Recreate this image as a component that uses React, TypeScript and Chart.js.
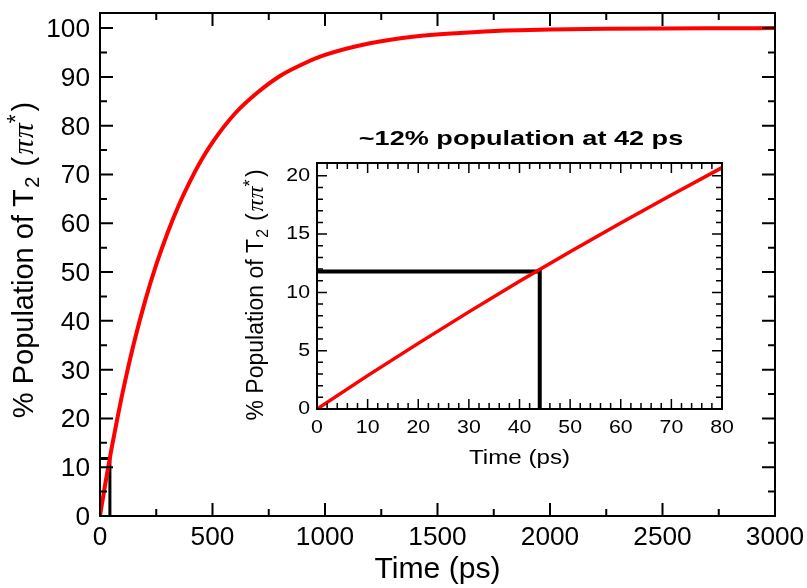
import React, { useEffect, useRef } from "react";
import { Chart, registerables } from "chart.js";

Chart.register(...registerables);

// ---------- data ----------
const mainTime = [0, 25, 50, 75, 100, 150, 200, 250, 300, 350, 400, 450, 500, 600, 700, 800, 900, 1000, 1200, 1400, 1600, 1800, 2000, 2250, 2500, 2750, 3000];
const mainPopulation = [0, 7.0, 13.5, 19.5, 25.2, 35.3, 44.0, 51.5, 58.0, 63.7, 68.6, 72.9, 76.6, 82.5, 86.8, 90.2, 92.6, 94.5, 96.9, 98.3, 99.0, 99.5, 99.7, 99.85, 99.93, 99.97, 100];

const insetTime = [0, 10, 20, 30, 40, 50, 60, 70, 80];
const insetPopulation = [0, 2.86, 5.63, 8.33, 10.95, 13.49, 15.96, 18.36, 20.7];

const markerTime = [0, 44, 44];
const markerPopulation = [11.8, 11.8, 0];

// ---------- ticks ----------
const mainXTicks = [0, 500, 1000, 1500, 2000, 2500, 3000];
const mainXMinor = [250, 750, 1250, 1750, 2250, 2750];
const mainYTicks = [0, 10, 20, 30, 40, 50, 60, 70, 80, 90, 100];
const mainYMinor = [5, 15, 25, 35, 45, 55, 65, 75, 85, 95];

const insetXTicks = [0, 10, 20, 30, 40, 50, 60, 70, 80];
const insetXMinor = [2, 4, 6, 8, 12, 14, 16, 18, 22, 24, 26, 28, 32, 34, 36, 38, 42, 44, 46, 48, 52, 54, 56, 58, 62, 64, 66, 68, 72, 74, 76, 78];
const insetYTicks = [0, 5, 10, 15, 20];
const insetYMinor = [1, 2, 3, 4, 6, 7, 8, 9, 11, 12, 13, 14, 16, 17, 18, 19];

const xTitle = "Time (ps)";
const yTitleMain = "% Population of T";
const yTitleSub = "2";
const yTitleGreek = "\u03C0\u03C0";
const insetTitle = "~12% population at 42 ps";

const SANS = "'Liberation Sans', Arial, sans-serif";
const SERIF = "'Liberation Serif', serif";

type Decor = {
  xMajor: number[]; xMinor: number[]; yMajor: number[]; yMinor: number[];
  majorLen: number; minorLen: number; tickWidth: number; frameWidth: number;
  tickFont: string; tickSX: number;
  yLabelGap: number; yLabelDy: number; xLabelBase: number;
  titleFont: string; titleSX: number; titleBase: number;
  ySize: number; yBaseX: number; yCenter: number;
  headFont?: string; headSX?: number; headBase?: number; headDx?: number;
};

function txt(ctx: CanvasRenderingContext2D, s: string, x: number, y: number, font: string, align: CanvasTextAlign, baseline: CanvasTextBaseline, sx = 1) {
  ctx.save();
  ctx.font = font;
  ctx.textAlign = align;
  ctx.textBaseline = baseline;
  ctx.translate(x, y);
  ctx.scale(sx, 1);
  ctx.fillText(s, 0, 0);
  ctx.restore();
}

function drawYTitle(ctx: CanvasRenderingContext2D, size: number, baseX: number, centerY: number) {
  const segs = [
    { t: yTitleMain, font: `${size}px ${SANS}`, dy: 0, pre: 0 },
    { t: yTitleSub, font: `${Math.round(size * 0.68)}px ${SANS}`, dy: size * 0.22, pre: size * 0.05 },
    { t: "(", font: `${size}px ${SANS}`, dy: 0, pre: size * 0.35 },
    { t: "\u03C0", font: `italic ${Math.round(size * 1.05)}px ${SERIF}`, dy: 0, pre: size * 0.08 },
    { t: "\u03C0", font: `italic ${Math.round(size * 1.05)}px ${SERIF}`, dy: 0, pre: size * 0.04 },
    { t: "*", font: `${Math.round(size * 0.8)}px ${SANS}`, dy: -size * 0.32, pre: 0 },
    { t: ")", font: `${size}px ${SANS}`, dy: 0, pre: size * 0.1 },
  ];
  ctx.save();
  let total = 0;
  const widths: number[] = [];
  for (const s of segs) {
    ctx.font = s.font;
    const w = ctx.measureText(s.t).width;
    widths.push(w);
    total += w + s.pre;
  }
  ctx.translate(baseX, centerY);
  ctx.rotate(-Math.PI / 2);
  ctx.textBaseline = "alphabetic";
  ctx.textAlign = "left";
  ctx.fillStyle = "#000";
  let x = -total / 2;
  segs.forEach((s, i) => {
    x += s.pre;
    ctx.font = s.font;
    ctx.fillText(s.t, x, s.dy);
    x += widths[i];
  });
  ctx.restore();
}

function makeDecor(id: string, d: Decor) {
  return {
    id,
    afterDatasetsDraw(chart: any) {
      const ctx: CanvasRenderingContext2D = chart.ctx;
      const a = chart.chartArea;
      const xs = chart.scales.x;
      const ys = chart.scales.y;
      ctx.save();
      ctx.strokeStyle = "#000";
      ctx.fillStyle = "#000";
      ctx.lineWidth = d.tickWidth;
      ctx.beginPath();
      const xt = (vals: number[], len: number) => {
        for (const v of vals) {
          const p = xs.getPixelForValue(v);
          ctx.moveTo(p, a.bottom); ctx.lineTo(p, a.bottom - len);
          ctx.moveTo(p, a.top); ctx.lineTo(p, a.top + len);
        }
      };
      const yt = (vals: number[], len: number) => {
        for (const v of vals) {
          const p = ys.getPixelForValue(v);
          ctx.moveTo(a.left, p); ctx.lineTo(a.left + len, p);
          ctx.moveTo(a.right, p); ctx.lineTo(a.right - len, p);
        }
      };
      xt(d.xMajor, d.majorLen);
      xt(d.xMinor, d.minorLen);
      yt(d.yMajor, d.majorLen);
      yt(d.yMinor, d.minorLen);
      ctx.stroke();
      ctx.lineWidth = d.frameWidth;
      ctx.strokeRect(a.left, a.top, a.right - a.left, a.bottom - a.top);

      for (const v of d.yMajor) {
        txt(ctx, String(v), a.left - d.yLabelGap, ys.getPixelForValue(v) + d.yLabelDy, d.tickFont, "right", "middle", d.tickSX);
      }
      for (const v of d.xMajor) {
        txt(ctx, String(v), xs.getPixelForValue(v), a.bottom + d.xLabelBase, d.tickFont, "center", "alphabetic", d.tickSX);
      }
      const cx = (a.left + a.right) / 2;
      txt(ctx, xTitle, cx, a.bottom + d.titleBase, d.titleFont, "center", "alphabetic", d.titleSX);
      drawYTitle(ctx, d.ySize, d.yBaseX, d.yCenter);
      if (d.headFont) {
        txt(ctx, insetTitle, cx + (d.headDx || 0), d.headBase || 0, d.headFont, "center", "alphabetic", d.headSX || 1);
      }
      ctx.restore();
    },
  };
}

function pts(xs: number[], ys: number[]) {
  return xs.map((x, i) => ({ x, y: ys[i] }));
}

export default function App() {
  const mainRef = useRef<HTMLCanvasElement>(null);
  const insetRef = useRef<HTMLCanvasElement>(null);

  useEffect(() => {
    const mainChart = new Chart(mainRef.current as HTMLCanvasElement, {
      type: "line",
      data: {
        datasets: [
          { data: pts(mainTime, mainPopulation), borderColor: "#ff0000", borderWidth: 4, pointRadius: 0, cubicInterpolationMode: "monotone", fill: false },
          { data: pts(markerTime, markerPopulation), borderColor: "#000000", borderWidth: 3, pointRadius: 0, tension: 0, fill: false },
        ] as any,
      },
      options: {
        animation: false,
        responsive: false,
        devicePixelRatio: 1,
        layout: { padding: { left: 100, top: 13, right: 32, bottom: 72 } },
        plugins: { legend: { display: false }, tooltip: { enabled: false } },
        scales: {
          x: { type: "linear", min: 0, max: 3000, display: false },
          y: { type: "linear", min: 0, max: 103.1, display: false },
        },
      },
      plugins: [
        makeDecor("mainDecor", {
          xMajor: mainXTicks, xMinor: mainXMinor, yMajor: mainYTicks, yMinor: mainYMinor,
          majorLen: 13, minorLen: 7, tickWidth: 2, frameWidth: 2,
          tickFont: `25px ${SANS}`, tickSX: 1.05,
          yLabelGap: 10, yLabelDy: 2, xLabelBase: 29,
          titleFont: `29px ${SANS}`, titleSX: 1.04, titleBase: 62,
          ySize: 29, yBaseX: 33, yCenter: 260,
        }),
      ],
    });

    const insetChart = new Chart(insetRef.current as HTMLCanvasElement, {
      type: "line",
      data: {
        datasets: [
          { data: pts(insetTime, insetPopulation), borderColor: "#ff0000", borderWidth: 3.5, pointRadius: 0, tension: 0, fill: false },
          { data: pts(markerTime, markerPopulation), borderColor: "#000000", borderWidth: 4, pointRadius: 0, tension: 0, fill: false, borderCapStyle: "square" },
        ] as any,
      },
      options: {
        animation: false,
        responsive: false,
        devicePixelRatio: 1,
        layout: { padding: { left: 117, top: 63, right: 38, bottom: 71 } },
        plugins: { legend: { display: false }, tooltip: { enabled: false } },
        scales: {
          x: { type: "linear", min: 0, max: 80, display: false },
          y: { type: "linear", min: 0, max: 21.1, display: false },
        },
      },
      plugins: [
        makeDecor("insetDecor", {
          xMajor: insetXTicks, xMinor: insetXMinor, yMajor: insetYTicks, yMinor: insetYMinor,
          majorLen: 10, minorLen: 6, tickWidth: 1.5, frameWidth: 2,
          tickFont: `19px ${SANS}`, tickSX: 1.12,
          yLabelGap: 7, yLabelDy: 0, xLabelBase: 24,
          titleFont: `21px ${SANS}`, titleSX: 1.15, titleBase: 55,
          ySize: 23, yBaseX: 63, yCenter: 195,
          headFont: `bold 21px ${SANS}`, headSX: 1.29, headBase: 45, headDx: 1.5,
        }),
      ],
    });

    return () => {
      mainChart.destroy();
      insetChart.destroy();
    };
  }, []);

  return (
    <div style={{ position: "fixed", left: 0, top: 0, width: 807, height: 588, background: "#ffffff", overflow: "hidden" }}>
      <canvas ref={mainRef} width={807} height={588} style={{ position: "absolute", left: 0, top: 0, width: 807, height: 588 }} />
      <canvas ref={insetRef} width={560} height={380} style={{ position: "absolute", left: 200, top: 100, width: 560, height: 380 }} />
    </div>
  );
}
